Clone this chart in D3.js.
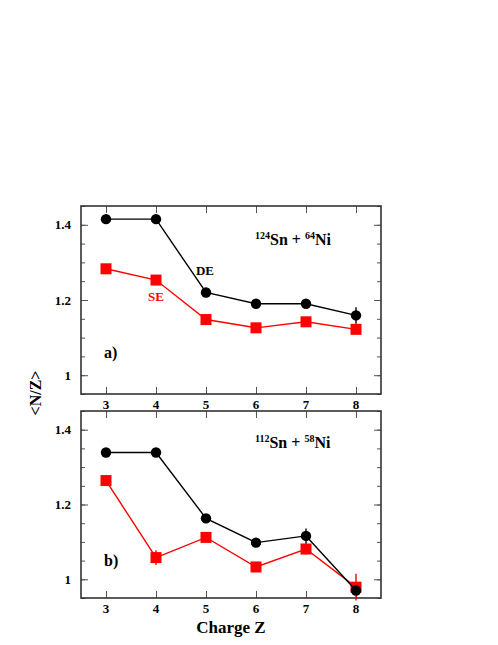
<!DOCTYPE html>
<html>
<head>
<meta charset="utf-8">
<script src="https://cdn.jsdelivr.net/npm/d3@7"></script>
<style>
body { margin: 0; background: white; }
</style>
</head>
<body>
<div id="chart"></div>
<script>
// charge Z of the fragments
charges = [3, 4, 5, 6, 7, 8];

// panel a) 124Sn + 64Ni
deA = [1.415, 1.415, 1.220, 1.190, 1.190, 1.159];
deAErr = [0, 0, 0, 0, 0, 0.022];
seA = [1.283, 1.253, 1.148, 1.126, 1.142, 1.122];
seAErr = [0, 0, 0, 0, 0, 0.012];

// panel b) 112Sn + 58Ni
deB = [1.339, 1.339, 1.163, 1.098, 1.116, 0.970];
deBErr = [0, 0, 0, 0, 0.020, 0];
seB = [1.264, 1.058, 1.112, 1.033, 1.081, 0.979];
seBErr = [0, 0.020, 0, 0, 0.015, 0.036];

yTicks = [1, 1.2, 1.4];
yTickLabels = ["1", "1.2", "1.4"];

width = 498;
height = 645;
left = 81;
right = 381;
serif = '"Liberation Serif", "DejaVu Serif", serif';

svg = d3.select("#chart")
    .append("svg")
    .attr("width", width)
    .attr("height", height);

x = d3.scaleLinear().domain([2.5, 8.5]).range([left, right]);

function label(parent, px, py, size, txt) {
    return parent.append("text")
        .attr("x", px).attr("y", py)
        .style("font-family", serif)
        .style("font-weight", "bold")
        .style("font-size", size + "px")
        .text(txt);
}

function panel(top, bottom, de, deErr, se, seErr, tag, aSup, aEl, bSup, bEl, labelY, noteY) {
    var y = d3.scaleLinear().domain([0.95, 1.45]).range([bottom, top]);
    var g = svg.append("g");

    // minor ticks
    var minor = d3.range(0.95, 1.451, 0.05);
    g.append("g").attr("transform", "translate(" + left + ",0)")
        .call(d3.axisRight(y).tickValues(minor).tickSize(4).tickFormat(""));
    g.append("g").attr("transform", "translate(" + right + ",0)")
        .call(d3.axisLeft(y).tickValues(minor).tickSize(4).tickFormat(""));
    // major ticks
    g.append("g").attr("transform", "translate(" + left + ",0)")
        .call(d3.axisRight(y).tickValues(yTicks).tickSize(7).tickFormat(""));
    g.append("g").attr("transform", "translate(" + right + ",0)")
        .call(d3.axisLeft(y).tickValues(yTicks).tickSize(7).tickFormat(""));
    g.append("g").attr("transform", "translate(0," + bottom + ")")
        .call(d3.axisTop(x).tickValues(charges).tickSize(7).tickFormat(""));
    g.append("g").attr("transform", "translate(0," + top + ")")
        .call(d3.axisBottom(x).tickValues(charges).tickSize(7).tickFormat(""));
    g.selectAll(".domain").remove();
    g.selectAll(".tick line").attr("stroke", "#555").attr("stroke-width", 1);

    // tick labels
    yTicks.forEach(function(d, i) {
        label(g, left - 10, y(d) + 4.5, 13, yTickLabels[i]).attr("text-anchor", "end");
    });
    charges.forEach(function(d) {
        label(g, x(d), bottom + 15, 13, d).attr("text-anchor", "middle");
    });

    // frame
    g.append("rect")
        .attr("x", left).attr("y", top)
        .attr("width", right - left).attr("height", bottom - top)
        .attr("fill", "none")
        .attr("stroke", "#333")
        .attr("stroke-width", 1.6);

    var line = d3.line().x((d, i) => x(charges[i])).y(d => y(d));

    function series(vals, errs, color, shape) {
        var s = g.append("g");
        s.append("path").datum(vals)
            .attr("d", line)
            .attr("fill", "none")
            .attr("stroke", color)
            .attr("stroke-width", 1.4);
        vals.forEach(function(d, i) {
            if (errs[i] > 0) {
                s.append("line")
                    .attr("x1", x(charges[i])).attr("x2", x(charges[i]))
                    .attr("y1", y(d + errs[i])).attr("y2", y(d - errs[i]))
                    .attr("stroke", color)
                    .attr("stroke-width", 1.4);
            }
        });
        if (shape == "circle") {
            s.selectAll("circle").data(vals).enter().append("circle")
                .attr("cx", (d, i) => x(charges[i]))
                .attr("cy", d => y(d))
                .attr("r", 5.2)
                .attr("fill", color);
        } else {
            s.selectAll("rect").data(vals).enter().append("rect")
                .attr("x", (d, i) => x(charges[i]) - 5.5)
                .attr("y", d => y(d) - 5.5)
                .attr("width", 11)
                .attr("height", 11)
                .attr("fill", color);
        }
    }
    series(se, seErr, "#ff0000", "square");
    series(de, deErr, "#000000", "circle");

    label(g, 104, labelY, 16, tag);

    var t = label(g, 255, noteY, 16, "");
    t.append("tspan").attr("dy", -6).style("font-size", "10px").text(aSup);
    t.append("tspan").attr("dy", 6).text(aEl + " + ");
    t.append("tspan").attr("dy", -6).style("font-size", "10px").text(bSup);
    t.append("tspan").attr("dy", 6).text(bEl);
    return y;
}

yA = panel(206, 394, deA, deAErr, seA, seAErr, "a)", "124", "Sn", "64", "Ni", 358, 245);
yB = panel(411, 598, deB, deBErr, seB, seBErr, "b)", "112", "Sn", "58", "Ni", 566, 448);

label(svg, 205, 275, 13, "DE").attr("text-anchor", "middle");
label(svg, 156, 301, 13, "SE").attr("text-anchor", "middle").attr("fill", "#ff0000");

label(svg, 231, 633, 17, "Charge Z").attr("text-anchor", "middle");

label(svg, 0, 0, 16, "<N/Z>")
    .attr("transform", "translate(41,393) rotate(-90)")
    .attr("text-anchor", "middle");
</script>
</body>
</html>
